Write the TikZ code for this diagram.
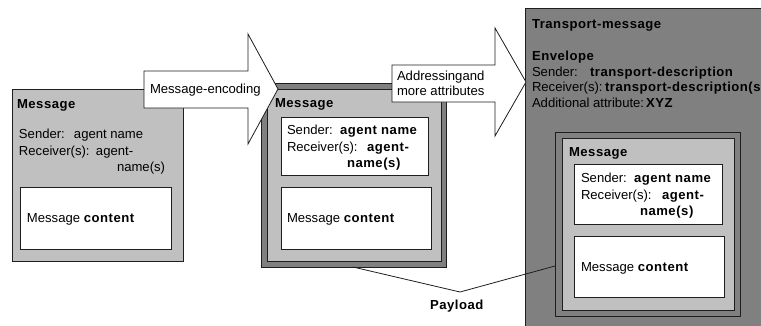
\documentclass[tikz,border=0pt]{standalone}
\usepackage{fontspec}
\setmainfont{Liberation Sans}[BoldFeatures={LetterSpace=4}]
\usetikzlibrary{calc}
\definecolor{lightbox}{HTML}{C0C0C0}
\definecolor{darkbox}{HTML}{808080}
\definecolor{edge}{HTML}{1E1E1E}

\tikzset{
  every node/.style={font=\fontsize{13.1}{16}\selectfont, inner sep=0pt, outer sep=0pt},
  panel/.style={draw=edge, line width=0.8pt, anchor=north west, inner sep=0pt, outer sep=0pt},
  lightpanel/.style={panel, fill=lightbox},
  darkpanel/.style={panel, fill=darkbox},
  whitepanel/.style={panel, fill=white},
  txt/.style={anchor=base west},
  bigarrow/.style={draw=edge, line width=0.8pt, fill=white, line join=miter},
  link/.style={draw=edge, line width=0.8pt},
}

\begin{document}
\begin{tikzpicture}[x=1pt, y=-1pt]
\useasboundingbox (0,0) rectangle (761,325);
\clip (0,0) rectangle (761,325);

% ---- plain message (left)
\node[lightpanel, minimum width=171pt, minimum height=172pt] (lmsg) at (12,89) {};
\node[whitepanel, minimum width=151pt, minimum height=62pt] (lcont) at (20,187) {};
\node[txt] (ltitle) at (17,108) {\textbf{Message}};
\node[txt] (lsend) at (19,138.5) {\makebox[55pt][l]{Sender:}agent name};
\node[txt] (lrecv) at (19,155) {\makebox[77pt][l]{Receiver(s):}agent-};
\node[txt] (lrecv2) at (117,171) {name(s)};
\node[txt] (lbody) at (27,222) {Message \textbf{content}};

% ---- encoded message (middle)
\node[darkpanel, minimum width=185pt, minimum height=184pt] (mfr) at (261,83) {};
\node[lightpanel, minimum width=174pt, minimum height=172pt] (mmsg) at (267,89) {};
\node[whitepanel, minimum width=147pt, minimum height=58pt] (mhead) at (281,117) {};
\node[whitepanel, minimum width=150pt, minimum height=62pt] (mcont) at (281,187) {};
\node[txt] (mtitle) at (275,107) {\textbf{Message}};
\node[txt] (msend) at (287,134.5) {\makebox[53pt][l]{Sender:}\textbf{agent name}};
\node[txt] (mrecv) at (287,151) {\makebox[80pt][l]{Receiver(s):}\textbf{agent-}};
\node[txt] (mrecv2) at (347,167.5) {\textbf{name(s)}};
\node[txt] (mbody) at (287,222) {Message \textbf{content}};

% ---- transport message (right)
\node[darkpanel, minimum width=250pt, minimum height=332pt] (tmsg) at (525,8) {};
\node[txt] (ttitle) at (532,28) {\textbf{Transport-message}};
\node[txt] (tenv) at (532,60.5) {\textbf{Envelope}};
\node[txt] (tsend) at (532,76) {\makebox[58pt][l]{Sender:}\textbf{transport-description}};
\node[txt] (trecv) at (532,91.5) {\makebox[73pt][l]{Receiver(s):}\textbf{transport-description(s)}};
\node[txt] (tattr) at (532,107) {\makebox[114pt][l]{Additional attribute:}\textbf{XYZ}};

\node[darkpanel, minimum width=185pt, minimum height=184pt] (rfr) at (555,132) {};
\node[lightpanel, minimum width=172pt, minimum height=172pt] (rmsg) at (562,138) {};
\node[whitepanel, minimum width=148pt, minimum height=60pt] (rhead) at (574,164) {};
\node[whitepanel, minimum width=150pt, minimum height=61pt] (rcont) at (574,236) {};
\node[txt] (rtitle) at (569,156) {\textbf{Message}};
\node[txt] (rsend) at (581,182.5) {\makebox[53pt][l]{Sender:}\textbf{agent name}};
\node[txt] (rrecv) at (581,199) {\makebox[81pt][l]{Receiver(s):}\textbf{agent-}};
\node[txt] (rrecv2) at (640,215) {\textbf{name(s)}};
\node[txt] (rbody) at (581,271) {Message \textbf{content}};

% ---- block arrows between the stages
\draw[bigarrow] (144,71) -- (248,71) -- (248,34) -- (278,89) -- (248,144)
  -- (248,108) -- (144,108) -- cycle;
\node[txt] (enc) at (150,93.5) {Message-encoding};

\draw[bigarrow] (392,65) -- (495,65) -- (495,28) -- (526,82) -- (495,136)
  -- (495,102) -- (392,102) -- cycle;
\node[txt] (addr1) at (397,80) {Addressingand};
\node[txt] (addr2) at (397,95) {more attributes};

% ---- payload callout
\coordinate (pa) at ($(mfr.south west)+(92,0)$);
\coordinate (pb) at ($(rfr.north west)+(0,134)$);
\coordinate (pv) at (460,292);
\draw[link] (pa) -- (pv) -- (pb);
\node[anchor=base] (payload) at (457,309) {\textbf{Payload}};
\end{tikzpicture}
\end{document}
